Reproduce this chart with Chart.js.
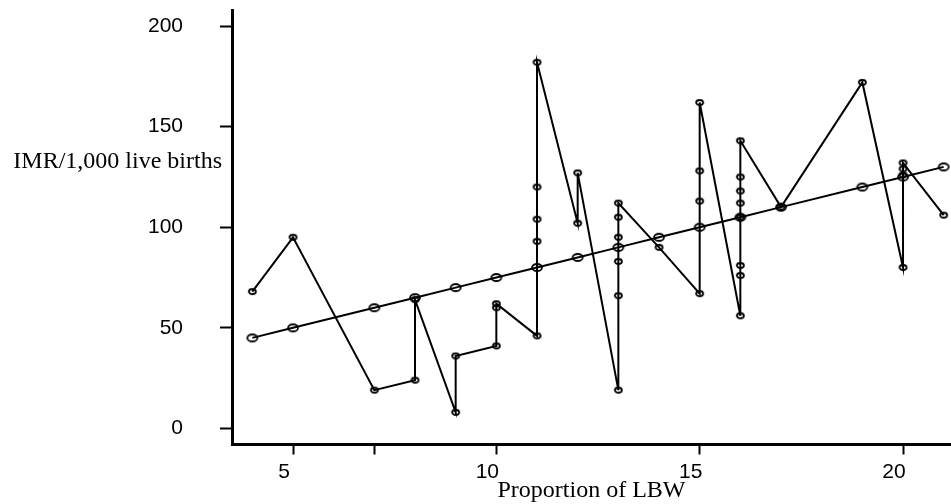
<!DOCTYPE html>
<html>
<head>
<meta charset="utf-8">
<script src="https://cdn.jsdelivr.net/npm/chart.js@4.4.1/dist/chart.umd.min.js"></script>
<style>
  html, body { margin: 0; padding: 0; background: #fff; }
  #wrap { width: 951px; height: 504px; position: relative; }
</style>
</head>
<body>
<div id="wrap"><canvas id="chart1"></canvas></div>
<script>
// 観測値 (x は LBW の割合, y は IMR)
const obsX = [4, 5, 7, 8, 8, 9, 9, 10, 10, 10, 11, 11, 11, 11, 11, 12, 12,
              13, 13, 13, 13, 13, 13, 14, 15, 15, 15, 15,
              16, 16, 16, 16, 16, 16, 16, 16, 17, 19, 20, 20, 20, 20, 21];
const obsY = [68, 95, 19, 24, 64, 8, 36, 41, 60, 62, 46, 93, 104, 120, 182, 102, 127,
              19, 66, 83, 95, 105, 112, 90, 67, 113, 128, 162,
              56, 76, 81, 105, 112, 118, 125, 143, 110, 172, 80, 126, 129, 132, 106];

// 回帰直線の値
const fitX = [4, 5, 7, 8, 9, 10, 11, 12, 13, 14, 15, 16, 17, 19, 20, 21];
const fitY = [45, 50, 60, 65, 70, 75, 80, 85, 90, 95, 100, 105, 110, 120, 125, 130];

// 目盛り
const xTicks = [5, 7, 10, 15, 20];
const xTickLabels = ['5', '', '10', '15', '20'];
const yTicks = [0, 50, 100, 150, 200];

const xTitle = 'Proportion of LBW';
const yTitle = 'IMR/1,000 live births';

// 楕円マーカーを作る
function makeRing(w, h, lw) {
    const c = document.createElement('canvas');
    c.width = w + 4; c.height = h + 4;
    const g = c.getContext('2d');
    g.strokeStyle = '#000';
    g.lineWidth = lw;
    g.beginPath();
    g.ellipse(c.width / 2, c.height / 2, w / 2, h / 2, 0, 0, Math.PI * 2);
    g.stroke();
    return c;
}

// 横書きの y 軸タイトル
const yTitlePlugin = {
    id: 'yTitleFlat',
    afterDraw(chart) {
        const ctx = chart.ctx;
        ctx.save();
        ctx.font = '24px "Liberation Serif", "Times New Roman", serif';
        ctx.fillStyle = '#000';
        ctx.textAlign = 'right';
        ctx.textBaseline = 'alphabetic';
        ctx.fillText(yTitle, chart.chartArea.left - 10, 168);
        ctx.restore();
    }
};

const tickFont = { family: '"Liberation Sans", Arial, sans-serif', size: 21 };

function renderChart() {
    const ctx = document.getElementById('chart1');
    return new Chart(ctx, {
        type: 'scatter',
        data: {
            datasets: [{
                label: 'observed',
                data: obsX.map((x, i) => ({ x: x, y: obsY[i] })),
                showLine: true,
                borderColor: '#000', borderWidth: 2,
                pointStyle: makeRing(7, 5, 1.8),
                pointRadius: 4,
                clip: false
            }, {
                label: 'fitted',
                data: fitX.map((x, i) => ({ x: x, y: fitY[i] })),
                showLine: true,
                borderColor: '#000', borderWidth: 2,
                pointStyle: makeRing(10, 7, 1.8),
                pointRadius: 6,
                clip: false
            }]
        },
        options: {
            responsive: false,
            animation: false,
            layout: { autoPadding: false, padding: { top: 10, right: 0, left: 0, bottom: 0 } },
            plugins: { legend: { display: false }, tooltip: { enabled: false } },
            scales: {
                x: {
                    type: 'linear', min: 3.5, max: 21.18,
                    afterBuildTicks: axis => { axis.ticks = xTicks.map(v => ({ value: v })); },
                    afterFit: s => { s.height = 59.5; s.paddingLeft = 0; s.paddingRight = 0; },
                    border: { color: '#000', width: 3 },
                    grid: { drawOnChartArea: false, drawTicks: true, tickLength: 10, tickWidth: 2, tickColor: '#000' },
                    ticks: {
                        color: '#000', font: tickFont, padding: 5, labelOffset: -9, maxRotation: 0,
                        callback: (v, i) => xTickLabels[i]
                    },
                    title: {
                        display: true, text: xTitle, color: '#000',
                        font: { family: '"Liberation Serif", "Times New Roman", serif', size: 24, lineHeight: 1.0 },
                        padding: { top: 0, bottom: 1 }
                    }
                },
                y: {
                    type: 'linear', min: -8, max: 208,
                    afterBuildTicks: axis => { axis.ticks = yTicks.map(v => ({ value: v })); },
                    afterFit: s => { s.width = 232; s.paddingTop = 0; s.paddingBottom = 0; },
                    border: { color: '#000', width: 3 },
                    grid: { drawOnChartArea: false, drawTicks: true, tickLength: 12, tickWidth: 2, tickColor: '#000' },
                    ticks: { color: '#000', font: tickFont, padding: 37 }
                }
            }
        },
        plugins: [yTitlePlugin]
    });
}

const cv = document.getElementById('chart1');
cv.width = 951; cv.height = 504;
renderChart();
</script>
</body>
</html>
